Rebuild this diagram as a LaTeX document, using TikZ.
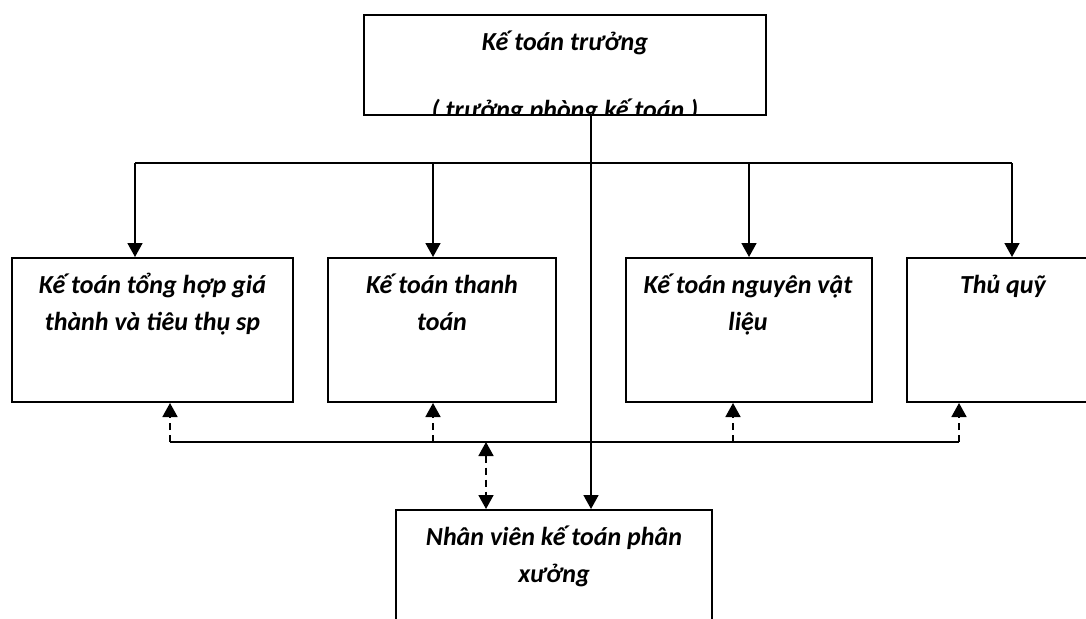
\documentclass[tikz,border=0pt]{standalone}
\usepackage{fontspec}
\setmainfont{Carlito}
\usetikzlibrary{arrows.meta}
\begin{document}
\begin{tikzpicture}[x=1pt,y=-1pt,
  box/.style={draw, line width=2pt, inner sep=0pt},
  lbl/.style={font=\fontsize{26}{30}\selectfont\bfseries\itshape, anchor=base, inner sep=0pt},
  tip/.tip={Triangle[width=15pt,length=14pt]},
  link/.style={line width=1.7pt},
  conn/.style={link, -tip},
  dconn/.style={link, dash pattern=on 7pt off 5pt, -tip},
  dboth/.style={link, dash pattern=on 7pt off 5pt, tip-tip}]
\clip (0,0) rectangle (1086,618);
\fill[white] (0,0) rectangle (1086,618);

% boxes
\node[box, minimum width=402pt, minimum height=100pt] (top) at (565,65) {};
\node[box, minimum width=281pt, minimum height=144pt] (b1) at (152.5,330) {};
\node[box, minimum width=228pt, minimum height=144pt] (b2) at (442,330) {};
\node[box, minimum width=246pt, minimum height=144pt] (b3) at (749,330) {};
\node[box, minimum width=192pt, minimum height=144pt] (b4) at (1003,330) {};
\node[box, minimum width=316pt, minimum height=140pt] (bot) at (554,580) {};

% labels
\begin{scope}
  \clip (364,15) rectangle (766,114);
  \node[lbl] (t1) at (565,51) {Kế toán trưởng};
  \node[lbl] (t2) at (565,118) {( trưởng phòng kế toán )};
\end{scope}
\node[lbl] (l1a) at (152.5,293) {Kế toán tổng hợp giá};
\node[lbl] (l1b) at (152.5,330) {thành và tiêu thụ sp};
\node[lbl] (l2a) at (442,293) {Kế toán thanh};
\node[lbl] (l2b) at (442,330) {toán};
\node[lbl] (l3a) at (748,293) {Kế toán nguyên vật};
\node[lbl] (l3b) at (748,330) {liệu};
\node[lbl] (l4a) at (1003,293) {Thủ quỹ};
\node[lbl] (l5a) at (554,545) {Nhân viên kế toán phân};
\node[lbl] (l5b) at (554,582) {xưởng};

% upper distribution line
\coordinate (trunk) at (591,0);
\coordinate (d1) at (135,163);
\coordinate (d2) at (433,163);
\coordinate (d3) at (749,163);
\coordinate (d4) at (1012,163);
\draw[link] (d1) -- (d4);
\draw[conn] (d1) -- (d1 |- b1.north);
\draw[conn] (d2) -- (d2 |- b2.north);
\draw[conn] (d3) -- (d3 |- b3.north);
\draw[conn] (d4) -- (d4 |- b4.north);
\draw[conn] (trunk |- top.south) -- (trunk |- bot.north);

% lower collection line
\coordinate (u1) at (170,442);
\coordinate (u2) at (433,442);
\coordinate (u3) at (733,442);
\coordinate (u4) at (959,442);
\coordinate (ub) at (486,442);
\draw[link] (u1) -- (u4);
\draw[dconn] (u1) -- (u1 |- b1.south);
\draw[dconn] (u2) -- (u2 |- b2.south);
\draw[dconn] (u3) -- (u3 |- b3.south);
\draw[dconn] (u4) -- (u4 |- b4.south);
\draw[dboth] (ub) -- (ub |- bot.north);
\end{tikzpicture}
\end{document}
